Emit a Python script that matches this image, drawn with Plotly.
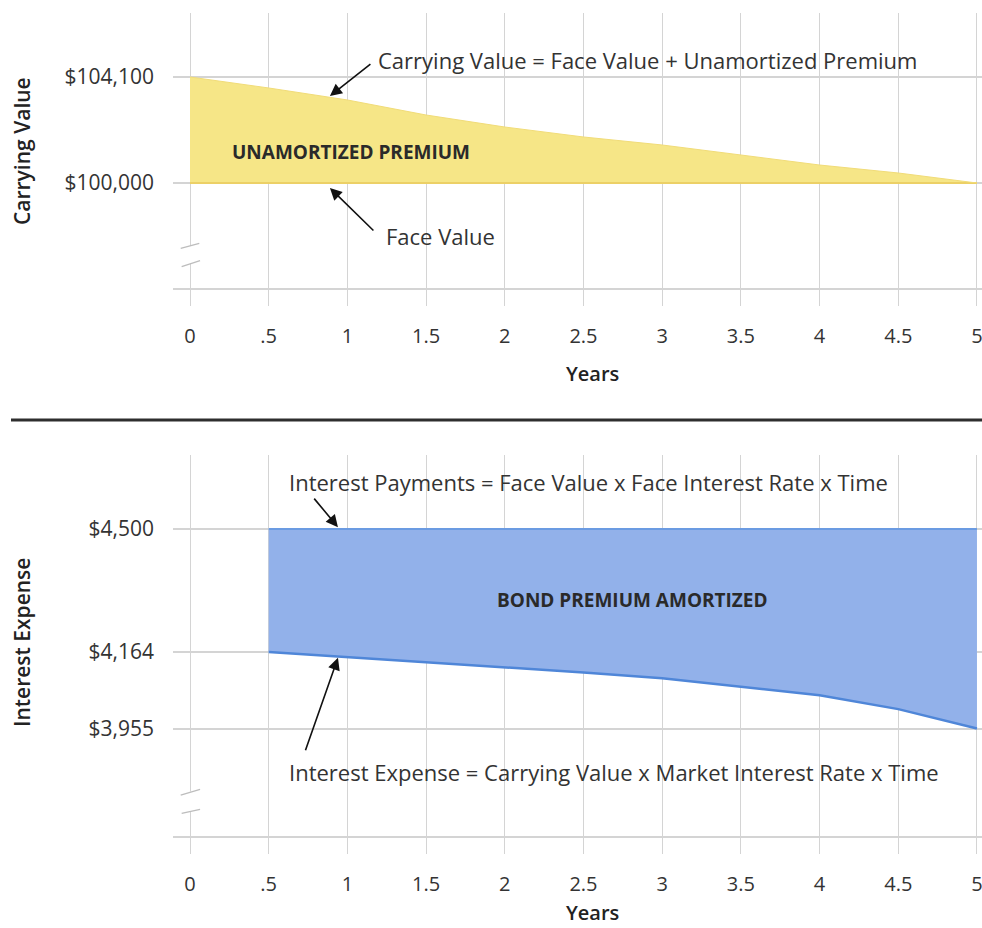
import plotly.graph_objects as go

# ---- data ----
years = [0, 0.5, 1, 1.5, 2, 2.5, 3, 3.5, 4, 4.5, 5]
carrying_value = [104100, 103675, 103211, 102630, 102166, 101780,
                  101470, 101083, 100696, 100387, 100000]
face_value = [100000] * 11

pay_years = [0.5, 1, 1.5, 2, 2.5, 3, 3.5, 4, 4.5, 5]
interest_payments = [4500] * 10
interest_expense = [4164, 4150, 4137, 4123, 4108, 4092, 4070, 4046, 4008, 3955]

x_ticks = [0, 0.5, 1, 1.5, 2, 2.5, 3, 3.5, 4, 4.5, 5]
x_ticktext = ["0", ".5", "1", "1.5", "2", "2.5", "3", "3.5", "4", "4.5", "5"]
top_ticks = [100000, 104100]
top_ticktext = ["$100,000", "$104,100"]
bot_ticks = [3955, 4164, 4500]
bot_ticktext = ["$3,955", "$4,164", "$4,500"]

W, H = 982, 928
FONT = "Open Sans"
TXT = "#333333"
GRID = "#d4d4d4"


def px(x):
    return x / W


def py(y):
    return 1 - y / H


fig = go.Figure()

# carrying value band (face value baseline + unamortized premium)
fig.add_trace(go.Scatter(x=years, y=face_value, mode="lines",
                         line=dict(color="#ecd066", width=2),
                         xaxis="x", yaxis="y", hoverinfo="skip"))
fig.add_trace(go.Scatter(x=years, y=carrying_value, mode="lines",
                         line=dict(color="#f1dc78", width=1),
                         fill="tonexty", fillcolor="#f6e687",
                         xaxis="x", yaxis="y"))

# interest expense vs interest payments band
fig.add_trace(go.Scatter(x=pay_years, y=interest_expense, mode="lines",
                         line=dict(color="#4f86d8", width=2.5),
                         xaxis="x2", yaxis="y2"))
fig.add_trace(go.Scatter(x=pay_years, y=interest_payments, mode="lines",
                         line=dict(color="#6b9be2", width=2),
                         fill="tonexty", fillcolor="#92b1ea",
                         xaxis="x2", yaxis="y2"))

xcommon = dict(range=[-0.108, 5.032], domain=[173 / W, 1],
               tickmode="array", tickvals=x_ticks, ticktext=x_ticktext,
               showgrid=True, gridcolor=GRID, gridwidth=1.2,
               zeroline=False, showline=True, linecolor=GRID, linewidth=1.5,
               ticks="outside", ticklen=16, tickcolor=GRID, tickwidth=1.2,
               ticklabelstandoff=13, ticklabeloverflow="allow",
               automargin=False,
               tickfont=dict(family=FONT, size=20, color=TXT), fixedrange=True)

ycommon = dict(showgrid=True, gridcolor=GRID, gridwidth=1.5, zeroline=False,
               showline=False, ticks="", automargin=False, tickmode="array",
               ticklabelstandoff=18,
               tickfont=dict(family=FONT, size=21, color=TXT), fixedrange=True)

fig.update_layout(
    width=W, height=H, autosize=False,
    margin=dict(l=0, r=0, t=0, b=0),
    paper_bgcolor="white", plot_bgcolor="white",
    showlegend=False,
    font=dict(family=FONT, color=TXT),
    xaxis=dict(anchor="y", **xcommon),
    xaxis2=dict(anchor="y2", **xcommon),
    yaxis=dict(anchor="x", range=[95939, 106575],
               domain=[py(288), py(13)],
               tickvals=top_ticks, ticktext=top_ticktext, **ycommon),
    yaxis2=dict(anchor="x2", range=[3661.4, 4702],
                domain=[py(836), py(455)],
                tickvals=bot_ticks, ticktext=bot_ticktext, **ycommon),
)

shapes = []
# separator between the two panels
shapes.append(dict(type="line", xref="paper", yref="paper",
                   x0=px(11), x1=1, y0=py(420), y1=py(420),
                   line=dict(color="#2e2e2e", width=3)))


def axis_break(yref, xr, y_gap, y_marks):
    # white gap in the y = 0 gridline plus two slanted break strokes
    out = [dict(type="line", xref=xr, yref=yref, x0=0, x1=0,
                y0=y_gap[0], y1=y_gap[1],
                line=dict(color="white", width=4))]
    for (x0, y0, x1, y1) in y_marks:
        out.append(dict(type="line", xref=xr, yref=yref,
                        x0=x0, y0=y0, x1=x1, y1=y1,
                        line=dict(color="#bdbdbd", width=1.3)))
    return out


shapes += axis_break("y", "x", (96900, 97560),
                     [(-0.059, 97474, 0.059, 97667),
                      (-0.053, 96762, 0.064, 96994)])
shapes += axis_break("y2", "x2", (3728, 3783),
                     [(-0.059, 3773, 0.064, 3789),
                      (-0.053, 3723, 0.064, 3734)])
fig.update_layout(shapes=shapes)

ann = []


def label(text, x, y, size=22, anchor="left", weight="normal", angle=0,
          color=TXT):
    ann.append(dict(text=text, x=px(x), y=py(y), xref="paper", yref="paper",
                    xanchor=anchor, yanchor="middle", showarrow=False,
                    textangle=angle,
                    font=dict(family=FONT, size=size, color=color,
                              weight=weight)))


def arrow(x, y, xr, yr, ax, ay):
    ann.append(dict(text="", x=x, y=y, xref=xr, yref=yr, ax=ax, ay=ay,
                    axref="pixel", ayref="pixel", showarrow=True,
                    arrowhead=2, arrowsize=1.5, arrowwidth=1.6,
                    arrowcolor="#111111"))


# axis titles
label("Carrying Value", 22, 151, size=21, anchor="center", angle=-90,
      weight=600, color="#222222")
label("Interest Expense", 22, 643, size=21, anchor="center", angle=-90,
      weight=600, color="#222222")
label("Years", 592, 374, size=20, anchor="center", weight=600,
      color="#222222")
label("Years", 592, 912, size=20, anchor="center", weight=600,
      color="#222222")

# top panel callouts
label("Carrying Value = Face Value + Unamortized Premium", 376, 60)
arrow(0.889, 103365, "x", "y", 42, -33)
label("Face Value", 384, 236)
arrow(0.889, 99807, "x", "y", 45, 44)
label("UNAMORTIZED PREMIUM", 351, 152, size=19, anchor="center",
      weight="bold", color="#2a2a2a")

# bottom panel callouts
label("Interest Payments = Face Value x Face Interest Rate x Time", 287, 482)
arrow(0.94, 4505, "x2", "y2", -25, -30)
label("BOND PREMIUM AMORTIZED", 632, 600, size=19, anchor="center",
      weight="bold", color="#2a2a2a")
label("Interest Expense = Carrying Value x Market Interest Rate x Time",
      287, 772)
arrow(0.94, 4148, "x2", "y2", -33, 94)

fig.update_layout(annotations=ann)

fig.write_html("out.html")
